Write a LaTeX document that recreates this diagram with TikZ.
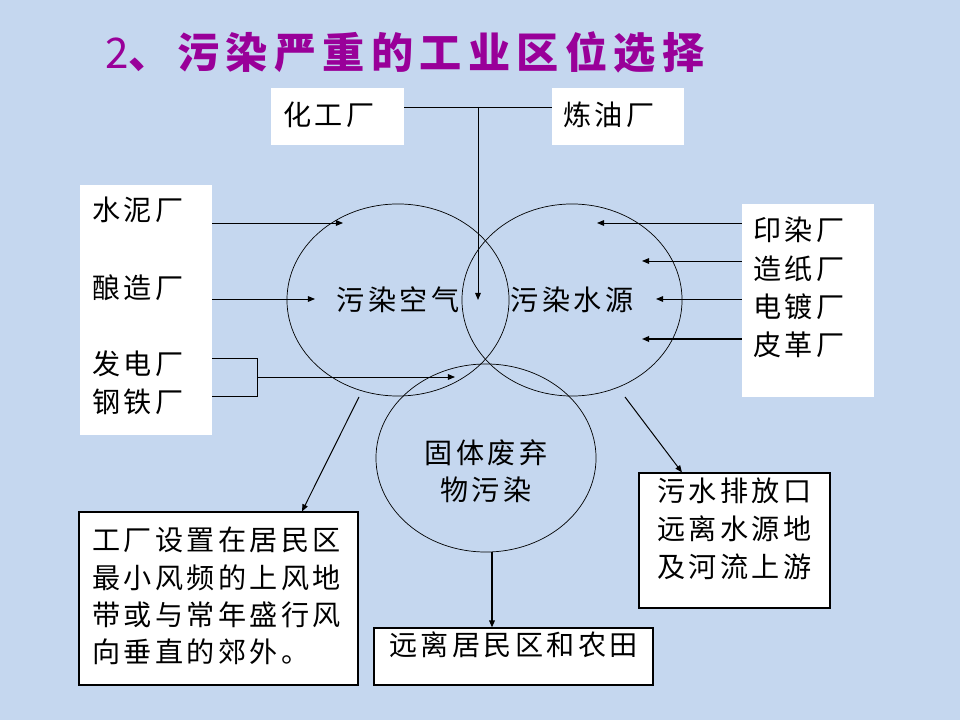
\documentclass[tikz,border=0pt]{standalone}
\usepackage{fontspec}
\newfontfamily\hanzi[LetterSpace=12]{Noto Sans CJK SC}
\newfontfamily\hanzititle[LetterSpace=15]{Noto Sans CJK SC}
\usetikzlibrary{arrows.meta, positioning, shapes.geometric, fit}
\definecolor{slidebg}{RGB}{197,215,239}
\definecolor{titlepurple}{RGB}{153,0,153}

\begin{document}
\begin{tikzpicture}[x=0.025cm, y=-0.025cm,
  panel/.style={fill=white, inner sep=0pt},
  frame/.style={panel, draw=black, line width=0.8pt, font=\hanzi\fontsize{20}{26.5}\selectfont},
  lbl/.style={font=\hanzi\fontsize{20}{26.5}\selectfont, inner sep=0pt},
  zone/.style={ellipse, draw, line width=0.5pt, inner sep=0pt, font=\hanzi\fontsize{20}{26.5}\selectfont},
  link/.style={line width=0.7pt},
  arr/.style={-{Triangle[length=5pt,width=4pt]}, line width=0.7pt}
]
  \fill[slidebg] (0,0) rectangle (960,720);

  \node[anchor=west, text=titlepurple, inner sep=0pt,
        font=\hanzititle\bfseries\fontsize{30}{36}\selectfont] (title) at (105,52)
        {{\mdseries 2}、污染严重的工业区位选择};

  % sources on top
  \node[panel, fit={(271,88) (404,145)}] (chem) {};
  \node[lbl, anchor=west] (chemtxt) at (283,115) {化工厂};
  \node[panel, fit={(552,88) (684,145)}] (oil) {};
  \node[lbl, anchor=west] (oiltxt) at (563,115) {炼油厂};

  % sources on the left
  \node[panel, fit={(80,185) (212,435)}] (west) {};
  \node[lbl, anchor=west] (cement) at (92,210) {水泥厂};
  \node[lbl, anchor=west] (brew) at (92,288) {酿造厂};
  \node[lbl, anchor=west] (power) at (92,364) {发电厂};
  \node[lbl, anchor=west] (steel) at (92,402) {钢铁厂};

  % sources on the right
  \node[panel, fit={(742,204) (874,397)}] (east) {};
  \node[lbl, anchor=west] (dye) at (753,230) {印染厂};
  \node[lbl, anchor=west] (paper) at (753,269) {造纸厂};
  \node[lbl, anchor=west] (plating) at (753,307) {电镀厂};
  \node[lbl, anchor=west] (leather) at (753,345) {皮革厂};

  % the three kinds of pollution
  \node[zone, minimum width=5.55cm, minimum height=4.8cm] (air) at (398,300) {污染空气};
  \node[zone, minimum width=5.5cm, minimum height=4.8cm] (water) at (572,300) {污染水源};
  \node[zone, minimum width=5.5cm, minimum height=4.7cm] (solid) at (486,458) {};
  \node[lbl, align=center] (solidtxt) at (486,471) {固体废弃\\物污染};

  % siting rules
  \node[frame, fit={(79,512) (358,685)}] (wind) {};
  \node[lbl, align=left, anchor=north west, text width=6.6cm] (windtxt) at (92,527)
    {工厂设置在居民区\\最小风频的上风地\\带或与常年盛行风\\向垂直的郊外。};
  \node[frame, fit={(374,628) (653,685)}] (farm) {远离居民区和农田};
  \node[frame, align=left, fit={(639,473) (830,608)}, font=\hanzi\fontsize{20}{27}\selectfont] (drain)
    {污水排放口\\远离水源地\\及河流上游};

  % connectors
  \coordinate (joint) at (478,107);
  \coordinate (drop) at (478,300);
  \draw[link] (chem.east |- joint) -- (oil.west |- joint);
  \draw[arr] (joint) -- (drop);

  \coordinate (cementtip) at (343,223);
  \coordinate (brewtip) at (315,299);
  \coordinate (bend) at (257,377);
  \coordinate (mixtip) at (455,377);
  \draw[arr] (west.east |- cementtip) -- (cementtip);
  \draw[arr] (west.east |- brewtip) -- (brewtip);
  \draw[link] (west.east |- 0,358) -| (257,396) -- (west.east |- 0,396);
  \draw[arr] (bend) -- (mixtip);

  \coordinate (dyetip) at (597,223);
  \coordinate (papertip) at (642,261);
  \coordinate (platingtip) at (656,299);
  \coordinate (leathertip) at (642,339);
  \draw[arr] (east.west |- dyetip) -- (dyetip);
  \draw[arr] (east.west |- papertip) -- (papertip);
  \draw[arr] (east.west |- platingtip) -- (platingtip);
  \draw[arr, line width=1pt] (east.west |- leathertip) -- (leathertip);

  \coordinate (airfoot) at (359,397);
  \coordinate (waterfoot) at (625,397);
  \coordinate (fall) at (492,552);
  \draw[arr] (airfoot) -- (wind.north -| 302,0);
  \draw[arr] (waterfoot) -- (drain.north -| 682,0);
  \draw[arr, line width=1pt] (fall) -- (fall |- farm.north);
\end{tikzpicture}
\end{document}
